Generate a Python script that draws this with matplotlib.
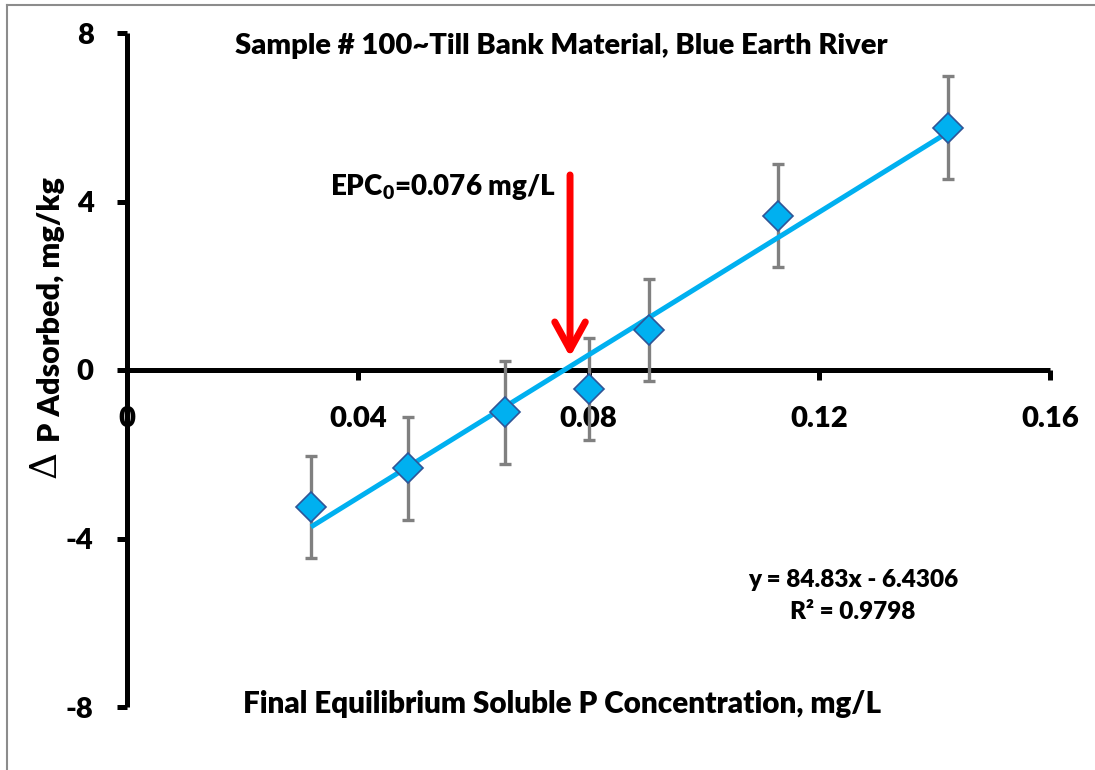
import numpy as np
import matplotlib
matplotlib.use("Agg")
import matplotlib.pyplot as plt
from matplotlib.lines import Line2D

plt.rcParams["font.family"] = ["Lato", "DejaVu Sans"]
plt.rcParams["font.weight"] = "heavy"
plt.rcParams["mathtext.default"] = "regular"

conc = [0.0319, 0.0487, 0.0655, 0.0801, 0.0905, 0.1128, 0.1423]
p_ads = [-3.25, -2.33, -1.0, -0.45, 0.95, 3.66, 5.75]
p_err = [1.22, 1.22, 1.22, 1.22, 1.22, 1.22, 1.22]

slope = 84.83
intercept = -6.4306
r2 = 0.9798
epc0 = 0.0768

x_ticks = [0, 0.04, 0.08, 0.12, 0.16]
x_labels = ["0", "0.04", "0.08", "0.12", "0.16"]
y_ticks = [-8, -4, 0, 4, 8]
y_labels = ["-8", "-4", "0", "4", "8"]

fig = plt.figure(figsize=(10.95, 7.7), dpi=100)
ax = fig.add_axes([127 / 1095, 1 - 707 / 770, (1050 - 127) / 1095, (707 - 33) / 770])

ax.set_xlim(0, 0.16)
ax.set_ylim(-8, 8)

for s in ["top", "right"]:
    ax.spines[s].set_visible(False)
ax.spines["bottom"].set_position(("data", 0))
for s in ["left", "bottom"]:
    ax.spines[s].set_linewidth(3.6)
    ax.spines[s].set_capstyle("butt")

ax.set_xticks(x_ticks)
ax.set_xticklabels(x_labels, fontweight="heavy")
ax.set_yticks(y_ticks)
ax.set_yticklabels(y_labels, fontweight="heavy")
ax.tick_params(axis="x", direction="out", length=7, width=3.6, pad=19, labelsize=21)
ax.tick_params(axis="y", direction="out", length=7, width=3.6, pad=17, labelsize=21)

# error bars, trendline, markers
ax.errorbar(conc, p_ads, yerr=p_err, fmt="none", ecolor="#808080", elinewidth=2.4,
            capsize=4, capthick=2.4, zorder=3)
xfit = np.array([min(conc), max(conc)])
ax.plot(xfit, slope * xfit + intercept, color="#00B0F0", lw=3.6, zorder=4,
        solid_capstyle="butt")
ax.plot(conc, p_ads, linestyle="none", marker="D", ms=15.5, mfc="#00B0F0",
        mec="#2F5597", mew=1.2, zorder=5)

# EPC0 arrow
ax.annotate("", xy=(epc0, 0.31), xytext=(epc0, 4.63),
            arrowprops=dict(arrowstyle="->,head_length=2.0,head_width=1.1",
                            color="#FF0000", lw=5, shrinkA=0, shrinkB=0),
            zorder=6)
fig.text(555 / 1095, 1 - 187 / 770, "EPC$_0$=%.3f mg/L" % 0.076, ha="right",
         va="center", fontsize=20)

fig.text(561 / 1095, 1 - 46 / 770, "Sample # 100~Till Bank Material, Blue Earth River",
         ha="center", va="center", fontsize=21)
fig.text(562 / 1095, 1 - 704 / 770, "Final Equilibrium Soluble P Concentration, mg/L",
         ha="center", va="center", fontsize=21.3)
fig.text(51 / 1095, 1 - 310 / 770, "P Adsorbed, mg/kg", rotation=90,
         ha="center", va="center", fontsize=22)
fig.text(46 / 1095, 1 - 464 / 770, "\u0394", rotation=90, ha="center", va="center",
         fontsize=27, family="DejaVu Serif", weight="normal")

fig.text(853 / 1095, 1 - 580 / 770, "y = %.2fx - %.4f" % (slope, -intercept),
         ha="center", va="center", fontsize=17.5)
fig.text(853 / 1095, 1 - 612 / 770, "R\u00b2 = %.4f" % r2,
         ha="center", va="center", fontsize=17.5)

# chart border
fig.add_artist(Line2D([7 / 1095, 7 / 1095], [0, 1 - 5 / 770], color="#8C8C8C", lw=1.5))
fig.add_artist(Line2D([7 / 1095, 1], [1 - 5 / 770, 1 - 5 / 770], color="#8C8C8C", lw=1.5))

fig.savefig("out.png", dpi=100)
